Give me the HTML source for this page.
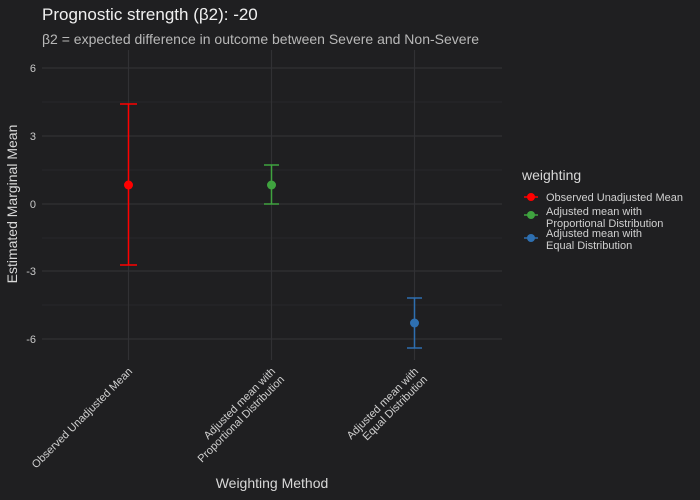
<!DOCTYPE html>
<html><head><style>html,body{margin:0;padding:0;background:#1f1f21;overflow:hidden;width:700px;height:500px}svg{display:block}</style></head><body>
<svg width="700" height="500" xmlns="http://www.w3.org/2000/svg" font-family="Liberation Sans, sans-serif">
<rect width="700" height="500" fill="#1f1f21"/>
<g stroke="#27272a" stroke-width="1">
<line x1="42" x2="502" y1="102" y2="102"/><line x1="42" x2="502" y1="170" y2="170"/>
<line x1="42" x2="502" y1="238" y2="238"/><line x1="42" x2="502" y1="305" y2="305"/>
</g>
<g stroke="#313134" stroke-width="1.2">
<line x1="42" x2="502" y1="68" y2="68"/><line x1="42" x2="502" y1="136" y2="136"/>
<line x1="42" x2="502" y1="204" y2="204"/><line x1="42" x2="502" y1="271" y2="271"/>
<line x1="42" x2="502" y1="339" y2="339"/>
<line x1="128.5" x2="128.5" y1="50" y2="360"/><line x1="271.5" x2="271.5" y1="50" y2="360"/><line x1="414.5" x2="414.5" y1="50" y2="360"/>
</g>
<g fill="#c8c8c8" font-size="11" text-anchor="end">
<text x="36" y="72">6</text><text x="36" y="140">3</text><text x="36" y="208">0</text><text x="36" y="275">-3</text><text x="36" y="343">-6</text>
</g>
<g stroke="#ff0000" stroke-width="1.5" fill="none"><line x1="128.5" x2="128.5" y1="104" y2="265"/><line x1="120" x2="137" y1="104" y2="104"/><line x1="120" x2="137" y1="265" y2="265"/></g>
<circle cx="128.5" cy="185" r="4.5" fill="#ff0000"/>
<g stroke="#3fa33f" stroke-width="1.5" fill="none"><line x1="271.5" x2="271.5" y1="165" y2="204"/><line x1="264" x2="279" y1="165" y2="165"/><line x1="264" x2="279" y1="204" y2="204"/></g>
<circle cx="271.5" cy="185" r="4.5" fill="#3fa33f"/>
<g stroke="#2e6fb0" stroke-width="1.5" fill="none"><line x1="414.5" x2="414.5" y1="298" y2="348"/><line x1="407" x2="422" y1="298" y2="298"/><line x1="407" x2="422" y1="348" y2="348"/></g>
<circle cx="414.5" cy="323" r="4.5" fill="#2e6fb0"/>
<g fill="#d0d0d0" font-size="11" text-anchor="end">
<text transform="translate(133,372) rotate(-45)">Observed Unadjusted Mean</text>
<text transform="translate(276,372) rotate(-45)">Adjusted mean with</text>
<text transform="translate(285,380) rotate(-45)">Proportional Distribution</text>
<text transform="translate(419,372) rotate(-45)">Adjusted mean with</text>
<text transform="translate(428,380) rotate(-45)">Equal Distribution</text>
</g>
<text x="272" y="488" fill="#d8d8d8" font-size="14" text-anchor="middle">Weighting Method</text>
<text transform="translate(17,204) rotate(-90)" fill="#d8d8d8" font-size="14" text-anchor="middle">Estimated Marginal Mean</text>
<text x="42" y="20" fill="#f0f0f0" font-size="17">Prognostic strength (β2): -20</text>
<text x="42" y="44" fill="#b8b8b8" font-size="14">β2 = expected difference in outcome between Severe and Non-Severe</text>
<text x="522" y="180" fill="#d8d8d8" font-size="14">weighting</text>
<g stroke-width="1.5">
<line x1="524" x2="538" y1="197" y2="197" stroke="#ff0000"/><circle cx="531" cy="197" r="4" fill="#ff0000"/>
<line x1="524" x2="538" y1="215" y2="215" stroke="#3fa33f"/><circle cx="531" cy="215" r="4" fill="#3fa33f"/>
<line x1="524" x2="538" y1="238" y2="238" stroke="#2e6fb0"/><circle cx="531" cy="238" r="4" fill="#2e6fb0"/>
</g>
<g fill="#d0d0d0" font-size="11">
<text x="546" y="201">Observed Unadjusted Mean</text>
<text x="546" y="215">Adjusted mean with</text><text x="546" y="227">Proportional Distribution</text>
<text x="546" y="237">Adjusted mean with</text><text x="546" y="249">Equal Distribution</text>
</g>
</svg>
</body></html>
